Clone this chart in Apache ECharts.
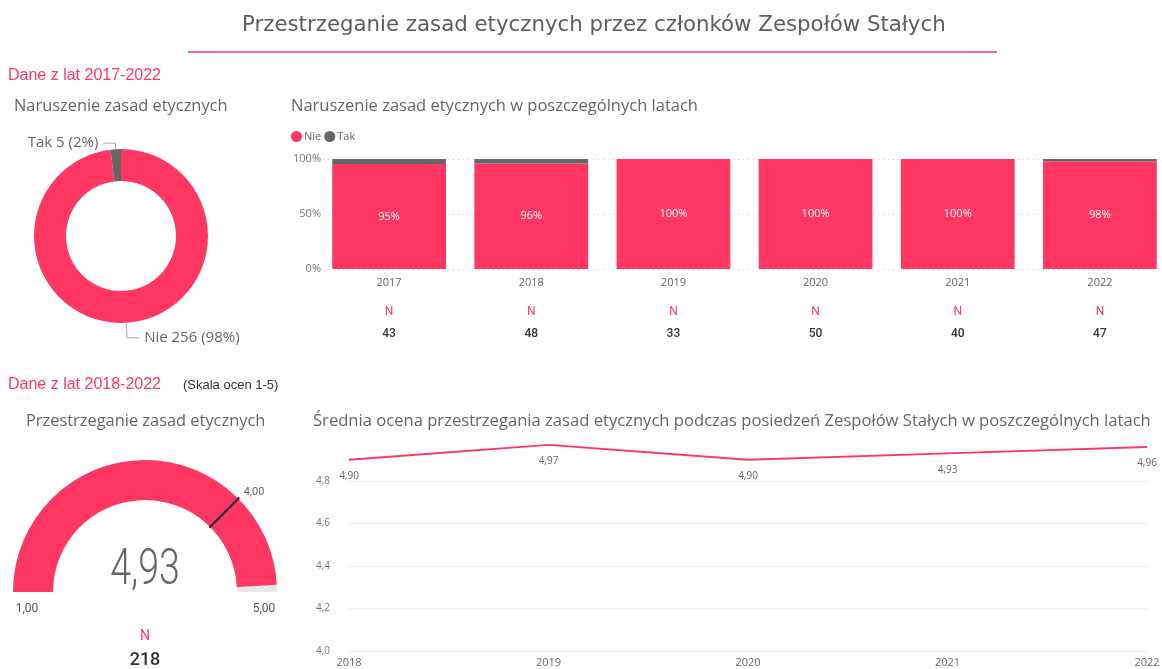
<!DOCTYPE html>
<html><head><meta charset="utf-8">
<script src="https://cdn.jsdelivr.net/npm/echarts@6/dist/echarts.min.js"></script>
<style>html,body{margin:0;padding:0;background:#fff}#c{width:1162px;height:669px}</style>
</head><body><div id="c"></div>
<script>
const PINK = '#FF3762', DARK = '#666666', TXT = '#605E5C';
// ---- data ----
const donutCategories = ['Nie', 'Tak'];
const donutValues = [256, 5];
const barYears = ['2017', '2018', '2019', '2020', '2021', '2022'];
const nieCounts = [41, 46, 33, 50, 40, 46];
const takCounts = [2, 2, 0, 0, 0, 1];
const nCounts = [43, 48, 33, 50, 40, 47];
const barYTicks = [0, 50, 100];
const lineYears = ['2018', '2019', '2020', '2021', '2022'];
const lineValues = [4.90, 4.97, 4.90, 4.93, 4.96];
const lineYMin = 4.0, lineYMax = 5.0, lineYStep = 0.2;
const gaugeMin = 1, gaugeMax = 5;
const gaugeValue = 4.93, gaugeTarget = 4.00, gaugeN = 218;

const comma = (v, d) => Number(v).toFixed(d).replace('.', ',');
const niePct = nieCounts.map((v, i) => v / nCounts[i] * 100);
const takPct = takCounts.map((v, i) => v / nCounts[i] * 100);

const SEG = '"Open Sans", "Noto Sans", sans-serif';
const NUM = 'Roboto, sans-serif';
const ARI = '"Liberation Sans", Arial, sans-serif';

const chart = echarts.init(document.getElementById('c'), null, {renderer: 'canvas'});
const T = (text, left, top, size, color, family) => ({
  text, left, top, padding: 0,
  textStyle: {fontSize: size, color, fontWeight: 'normal', fontFamily: family || SEG}
});

chart.setOption({
  animation: false,
  title: [
    T('Przestrzeganie zasad etycznych przez członków Zespołów Stałych', 242, 15, 21.3, TXT, '"DejaVu Sans", sans-serif'),
    T('Dane z lat 2017-2022', 8, 68, 16, PINK, ARI),
    T('Naruszenie zasad etycznych', 14, 98, 16.4, DARK),
    T('Naruszenie zasad etycznych w poszczególnych latach', 291, 98, 16.5, DARK),
    T('Dane z lat 2018-2022', 8, 377, 16, PINK, ARI),
    T('(Skala ocen 1-5)', 183, 379, 13, '#333', ARI),
    T('Przestrzeganie zasad etycznych', 26, 413, 16.4, DARK),
    T('Średnia ocena przestrzegania zasad etycznych podczas posiedzeń Zespołów Stałych w poszczególnych latach', 313, 413, 16.6, DARK)
  ],
  legend: {
    data: ['Nie', 'Tak'], left: 291, top: 131, icon: 'circle', itemWidth: 11, itemHeight: 11, itemGap: 3,
    padding: 0, textStyle: {fontSize: 11, color: DARK, fontFamily: SEG, padding: [0, 0, 0, -3]}
  },
  grid: [
    {left: 318, width: 853, top: 159, height: 110, outerBoundsMode: 'none'},
    {left: 349, right: 15, top: 438.5, bottom: 18, outerBoundsMode: 'none'}
  ],
  xAxis: [
    {gridIndex: 0, type: 'category', data: barYears, axisLine: {show: false}, axisTick: {show: false},
     axisLabel: {fontSize: 11, color: DARK, margin: 8, fontFamily: SEG}},
    {gridIndex: 0, type: 'category', data: barYears, position: 'bottom', offset: 29,
     axisLine: {show: false}, axisTick: {show: false},
     axisLabel: {formatter: () => 'N', fontSize: 12, color: PINK, fontFamily: NUM, margin: 8}},
    {gridIndex: 0, type: 'category', data: barYears, position: 'bottom', offset: 51,
     axisLine: {show: false}, axisTick: {show: false},
     axisLabel: {formatter: (v, i) => String(nCounts[i]), fontSize: 12, color: '#333', fontWeight: 500, fontFamily: NUM, margin: 8}},
    {gridIndex: 1, type: 'category', data: lineYears, boundaryGap: false,
     axisLine: {show: false}, axisTick: {show: false},
     axisLabel: {fontSize: 11, color: DARK, margin: 6, fontFamily: SEG}}
  ],
  yAxis: [
    {gridIndex: 0, type: 'value', min: barYTicks[0], max: barYTicks[2], interval: barYTicks[1],
     axisLine: {show: false}, axisTick: {show: false},
     axisLabel: {formatter: v => v + '%', fontSize: 11, color: '#777', margin: -3, fontFamily: SEG},
     splitLine: {lineStyle: {color: '#cfcfcf', type: [1, 4], width: 1}}},
    {gridIndex: 1, type: 'value', min: lineYMin, max: lineYMax, interval: lineYStep,
     axisLine: {show: false}, axisTick: {show: false},
     axisLabel: {formatter: v => comma(v, 1), fontSize: 10, color: '#777', margin: 19, fontFamily: SEG, showMaxLabel: false},
     splitLine: {showMaxLine: false, lineStyle: {color: '#efefef', width: 1}}}
  ],
  series: [
    {
      type: 'pie', name: 'donut', center: [121, 236], radius: [55, 87], startAngle: 90, clockwise: true,
      percentPrecision: 0, avoidLabelOverlap: false,
      data: donutCategories.map((c, i) => ({
        name: c, value: donutValues[i], itemStyle: {color: i === 0 ? PINK : DARK},
        labelLine: {length: i === 0 ? 15 : 6}
      })),
      label: {formatter: '{b} {c} ({d}%)', fontSize: 15, color: DARK, fontFamily: SEG},
      labelLine: {length: 10, length2: 12, lineStyle: {color: '#aaa', width: 1}},
      emphasis: {disabled: true}
    },
    {
      type: 'bar', name: 'Nie', stack: 'a', xAxisIndex: 0, yAxisIndex: 0, barCategoryGap: '20%',
      itemStyle: {color: PINK}, data: niePct,
      label: {show: true, position: 'inside', formatter: p => Math.round(p.value) + '%', color: '#fff', fontSize: 11, fontFamily: SEG}
    },
    {
      type: 'bar', name: 'Tak', stack: 'a', xAxisIndex: 0, yAxisIndex: 0, barCategoryGap: '20%',
      itemStyle: {color: DARK}, data: takPct
    },
    {
      type: 'line', name: 'avg', xAxisIndex: 3, yAxisIndex: 1, data: lineValues,
      showSymbol: true, symbol: 'circle', symbolSize: 1,
      lineStyle: {color: PINK, width: 2}, itemStyle: {color: PINK},
      label: {show: true, position: 'bottom', distance: 11, formatter: p => comma(p.value, 2), fontSize: 10, color: DARK, fontFamily: SEG},
      emphasis: {disabled: true}
    },
    {
      type: 'gauge', z: 2, center: [145, 592], radius: 132, startAngle: 180, endAngle: 0, min: gaugeMin, max: gaugeMax,
      axisLine: {lineStyle: {width: 40, color: [[1, '#E8E8E8']]}},
      progress: {show: true, width: 40, itemStyle: {color: PINK}},
      pointer: {show: false}, axisTick: {show: false}, splitLine: {show: false}, axisLabel: {show: false},
      anchor: {show: false}, title: {show: false}, detail: {show: false},
      data: [{value: gaugeValue}]
    },
    {
      type: 'gauge', z: 6, center: [145, 592], radius: 132, startAngle: 180, endAngle: 0, min: gaugeMin, max: gaugeMax,
      axisLine: {show: false}, progress: {show: false},
      axisTick: {show: false}, splitLine: {show: false}, axisLabel: {show: false},
      pointer: {show: true, icon: 'rect', width: 2.5, length: '32%', offsetCenter: [0, '-69%'], itemStyle: {color: '#333'}},
      anchor: {show: false}, title: {show: false},
      detail: {formatter: v => comma(v, 2), fontSize: 11, fontWeight: 'normal', fontFamily: NUM, color: DARK, offsetCenter: [109, -100]},
      data: [{value: gaugeTarget}]
    }
  ],
  graphic: [
    {type: 'line', shape: {x1: 188, y1: 52, x2: 997, y2: 52}, style: {stroke: PINK, lineWidth: 1.5}},
    {type: 'text', x: 145, y: 571, scaleX: 0.75, z: 10,
     style: {text: comma(gaugeValue, 2), textAlign: 'center', textVerticalAlign: 'middle', fill: DARK, font: '300 50px Roboto'}},
    {type: 'text', style: {text: comma(gaugeMin, 2), x: 27, y: 609, textAlign: 'center', textVerticalAlign: 'middle', fill: '#555', font: '12px Roboto'}},
    {type: 'text', style: {text: comma(gaugeMax, 2), x: 264, y: 609, textAlign: 'center', textVerticalAlign: 'middle', fill: '#555', font: '12px Roboto'}},
    {type: 'text', style: {text: 'N', x: 145, y: 636, textAlign: 'center', textVerticalAlign: 'middle', fill: PINK, font: '14px Roboto'}},
    {type: 'text', style: {text: String(gaugeN), x: 145, y: 660, textAlign: 'center', textVerticalAlign: 'middle', fill: '#333', font: '500 18px Roboto'}}
  ]
});
</script>
</body></html>
